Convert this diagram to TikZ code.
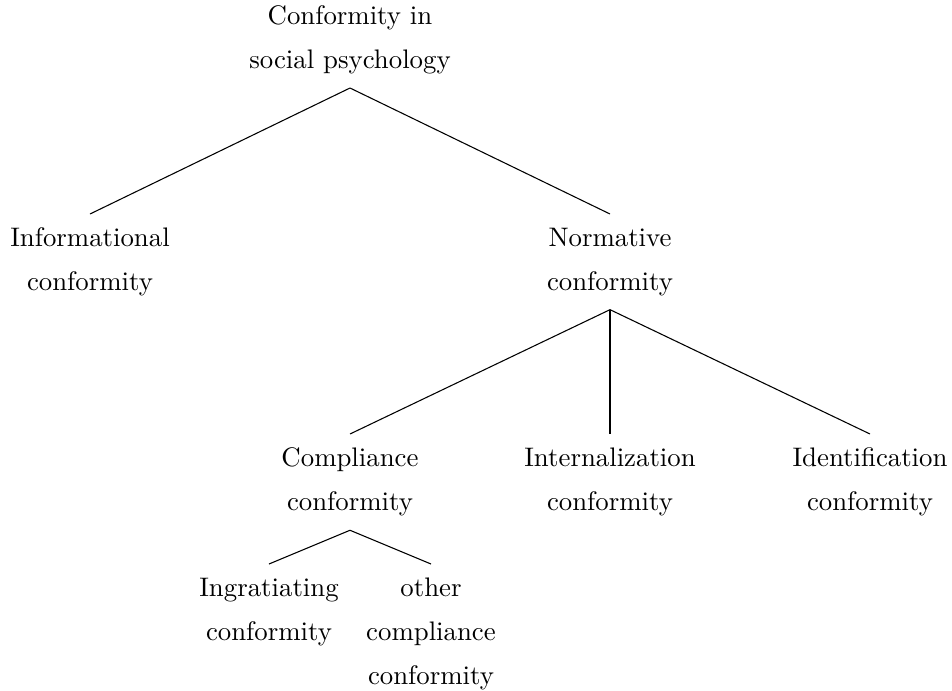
\documentclass[tikz,border=0pt]{standalone}
\usetikzlibrary{positioning}

\begin{document}
\begin{tikzpicture}[
    x=0.373pt, y=-0.373pt,
    concept/.style={align=center, inner sep=5pt, font=\fontsize{10}{16.4}\selectfont},
    branch/.style={thin}
]
\useasboundingbox (0,0) rectangle (952,690);

% Wurzel und erste Ebene
\node[concept, anchor=south] (conf) at (350,88) {Conformity in\\social psychology};
\node[concept, anchor=north] (info) at (90,214) {Informational\\conformity};
\node[concept, anchor=north] (norm) at (610,214) {Normative\\conformity};

% Zweite Ebene
\node[concept, anchor=north] (compl) at (350,434) {Compliance\\conformity};
\node[concept, anchor=north] (intern) at (610,434) {Internalization\\conformity};
\node[concept, anchor=north] (ident) at (870,434) {Identification\\conformity};

% Dritte Ebene
\node[concept, anchor=north] (ingr) at (269,564) {Ingratiating\\conformity};
\node[concept, anchor=north] (other) at (431,564) {other\\compliance\\conformity};

% Kanten
\draw[branch] (conf.south) -- (info.north);
\draw[branch] (conf.south) -- (norm.north);
\draw[branch] (norm.south) -- (compl.north);
\draw[branch] (norm.south) -- (intern.north);
\draw[branch] (norm.south) -- (ident.north);
\draw[branch] (compl.south) -- (ingr.north);
\draw[branch] (compl.south) -- (other.north);

\end{tikzpicture}
\end{document}
